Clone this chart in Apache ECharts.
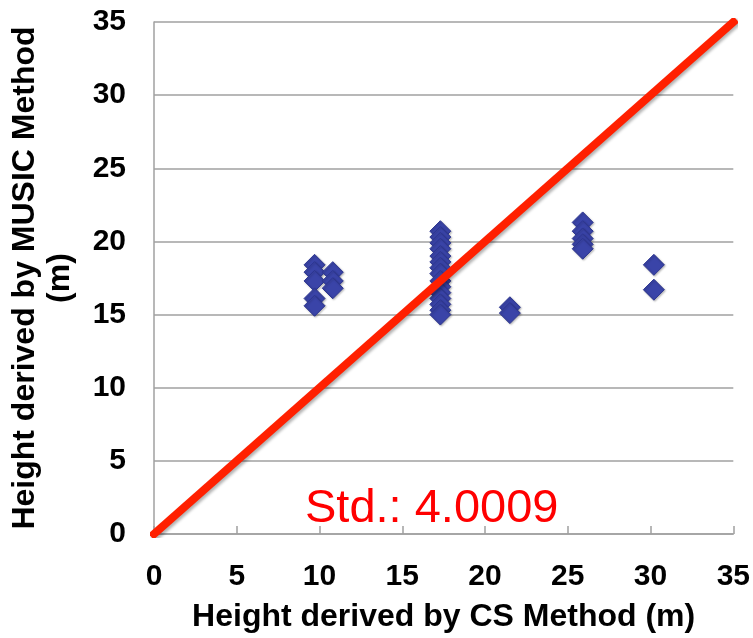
<!DOCTYPE html>
<html>
<head>
<meta charset="utf-8">
<script src="https://cdn.jsdelivr.net/npm/echarts@6/dist/echarts.min.js"></script>
<style>
  html, body { margin: 0; padding: 0; background: #fff; }
  #chart { width: 753px; height: 638px; }
</style>
</head>
<body>
<div id="chart"></div>
<script>
// heights from the CS method (x) and the MUSIC method (y), one pair per point
var csHeights = [
    9.7, 9.7, 9.7, 9.7, 9.7,
    10.8, 10.8, 10.8,
    17.3, 17.3, 17.3, 17.3, 17.3, 17.3, 17.3, 17.3, 17.3, 17.3, 17.3, 17.3, 17.3, 17.3, 17.3,
    21.5, 21.5,
    25.9, 25.9, 25.9, 25.9, 25.9,
    30.2, 30.2
];
var musicHeights = [
    18.4, 17.9, 17.3, 16.1, 15.6,
    17.9, 17.3, 16.8,
    20.7, 20.3, 19.9, 19.5, 19.0, 18.6, 18.2, 17.8, 17.3, 16.9, 16.5, 16.1, 15.7, 15.3, 15.0,
    15.5, 15.1,
    21.3, 20.7, 20.2, 19.8, 19.5,
    18.4, 16.7
];
var oneToOne = [[0, 0], [35, 35]];
var axisTicks = [0, 35, 5]; // min, max, interval
var stdText = "Std.: 4.0009";

var myChart = echarts.init(document.getElementById("chart"));

var points = csHeights.map(function(x, i) {
    return [x, musicHeights[i]];
});

var labelFont = {
    color: "#000",
    fontFamily: "Liberation Sans",
    fontWeight: "bold",
    fontSize: 30
};

var option = {
    animation: false,
    backgroundColor: "#fff",
    grid: { left: 154, right: 17, top: 22, bottom: 104 },
    xAxis: {
        type: "value",
        min: axisTicks[0],
        max: axisTicks[1],
        interval: axisTicks[2],
        name: "Height derived by CS Method (m)",
        nameLocation: "middle",
        nameGap: 67,
        nameTextStyle: {
            color: "#000",
            fontFamily: "Liberation Sans",
            fontWeight: "bold",
            fontSize: 32
        },
        axisLine: { lineStyle: { color: "#a0a0a0", width: 1.5 } },
        axisTick: { show: true, inside: true, length: 8, lineStyle: { color: "#a0a0a0", width: 1.5 } },
        axisLabel: Object.assign({ margin: 28 }, labelFont),
        splitLine: { show: false }
    },
    yAxis: {
        type: "value",
        min: axisTicks[0],
        max: axisTicks[1],
        interval: axisTicks[2],
        name: "Height derived by MUSIC Method\n(m)",
        nameLocation: "middle",
        nameGap: 76,
        nameTextStyle: {
            color: "#000",
            fontFamily: "Liberation Sans",
            fontWeight: "bold",
            fontSize: 32,
            lineHeight: 35
        },
        axisLine: { show: true, lineStyle: { color: "#a0a0a0", width: 1.5 } },
        axisTick: { show: false },
        axisLabel: Object.assign({ margin: 28 }, labelFont),
        splitLine: { show: true, lineStyle: { color: "#a0a0a0", width: 1.5 } }
    },
    series: [{
        type: "scatter",
        symbol: "diamond",
        symbolSize: 21,
        data: points,
        itemStyle: {
            color: "#3a44a8",
            opacity: 1,
            borderColor: "#2d3690",
            borderWidth: 1,
            shadowColor: "rgba(0,0,0,0.25)",
            shadowBlur: 2,
            shadowOffsetX: 1,
            shadowOffsetY: 1
        },
        z: 3
    }, {
        type: "line",
        data: oneToOne,
        symbol: "none",
        lineStyle: {
            color: "#ff2000",
            width: 8,
            cap: "square",
            shadowColor: "rgba(0,0,0,0.3)",
            shadowBlur: 3,
            shadowOffsetX: 2,
            shadowOffsetY: 2
        },
        z: 4
    }],
    graphic: [{
        type: "text",
        left: 305,
        top: 486,
        style: {
            text: stdText,
            fill: "#ff0000",
            fontFamily: "Liberation Sans",
            fontSize: 47
        },
        z: 10
    }]
};

myChart.setOption(option);
</script>
</body>
</html>
